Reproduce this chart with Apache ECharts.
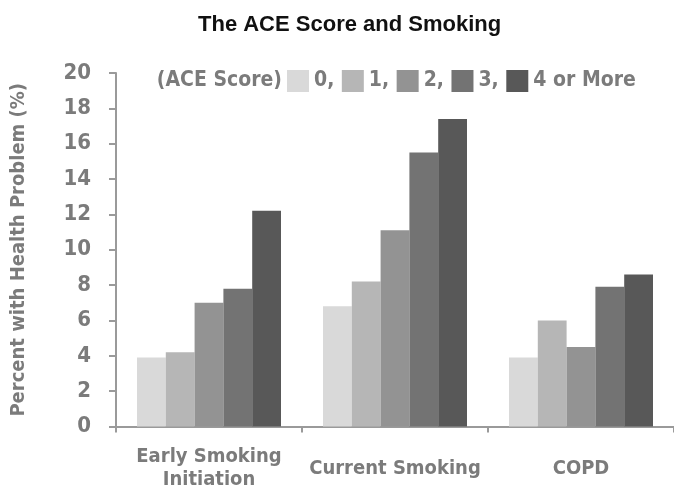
<!DOCTYPE html>
<html>
<head>
<meta charset="utf-8">
<script src="https://cdn.jsdelivr.net/npm/echarts@6/dist/echarts.min.js"></script>
<style>
  html, body { margin: 0; padding: 0; background: #fff; }
  #chart { width: 674px; height: 492px; }
</style>
</head>
<body>
<div id="chart"></div>
<script>
// Outcome categories along the x axis
const categories = ['Early Smoking\nInitiation', 'Current Smoking', 'COPD'];

// ACE score groups (legend entries)
const aceGroups = ['0', '1', '2', '3', '4 or More'];

// Percent with health problem, one array per ACE score group
const ace0 = [3.9, 6.8, 3.9];
const ace1 = [4.2, 8.2, 6.0];
const ace2 = [7.0, 11.1, 4.5];
const ace3 = [7.8, 15.5, 7.9];
const ace4plus = [12.2, 17.4, 8.6];

// Y axis ticks
const yTicks = [0, 2, 4, 6, 8, 10, 12, 14, 16, 18, 20];

const seriesValues = [ace0, ace1, ace2, ace3, ace4plus];
const barColors = ['#d9d9d9', '#b6b6b6', '#939393', '#737373', '#585858'];

const condensed = "'Liberation Sans Narrow', 'DejaVu Sans Condensed', 'Roboto Condensed', sans-serif";
const textGray = '#7b7b7b';

const chart = echarts.init(document.getElementById('chart'), null, { renderer: 'canvas' });

chart.setOption({
  animation: false,
  backgroundColor: '#ffffff',
  title: {
    text: 'The ACE Score and Smoking',
    left: 193,
    top: 9,
    textStyle: {
      fontFamily: "'Liberation Sans', Arial, sans-serif",
      fontSize: 22,
      fontWeight: 'bold',
      color: '#111'
    }
  },
  graphic: [{
    type: 'text',
    right: 392,
    top: 70,
    style: {
      text: '(ACE Score)',
      fontFamily: condensed,
      fontWeight: 'bold',
      fontSize: 21,
      fill: textGray
    }
  }],
  legend: {
    data: aceGroups,
    left: 282,
    top: 65,
    itemWidth: 22,
    itemHeight: 22,
    itemGap: 7.5,
    icon: 'rect',
    formatter: function (name) {
      return name === aceGroups[aceGroups.length - 1] ? name : name + ',';
    },
    textStyle: {
      fontFamily: condensed,
      fontWeight: 'bold',
      fontSize: 21,
      color: textGray,
      width: 20,
      overflow: 'none'
    }
  },
  grid: {
    left: 116,
    top: 73,
    width: 563,
    height: 353.5,
    containLabel: false
  },
  xAxis: {
    type: 'category',
    data: categories,
    axisLine: { lineStyle: { color: '#9a9a9a', width: 2 } },
    axisTick: { show: true, length: 6, lineStyle: { color: '#9a9a9a', width: 2 } },
    axisLabel: {
      interval: 0,
      margin: 42,
      verticalAlign: 'middle',
      lineHeight: 23,
      fontFamily: condensed,
      fontWeight: 'bold',
      fontSize: 20,
      color: textGray
    }
  },
  yAxis: {
    type: 'value',
    min: yTicks[0],
    max: yTicks[yTicks.length - 1],
    interval: yTicks[1] - yTicks[0],
    name: 'Percent with Health Problem (%)',
    nameLocation: 'middle',
    nameGap: 87,
    nameRotate: 90,
    nameTextStyle: {
      fontFamily: condensed,
      fontWeight: 'bold',
      fontSize: 20,
      color: textGray
    },
    splitLine: { show: false },
    axisLine: { show: true, lineStyle: { color: '#9a9a9a', width: 2 } },
    axisTick: { show: true, length: 7, lineStyle: { color: '#9a9a9a', width: 2 } },
    axisLabel: {
      margin: 25,
      fontFamily: condensed,
      fontWeight: 'bold',
      fontSize: 22,
      color: textGray
    }
  },
  series: aceGroups.map(function (name, i) {
    return {
      name: name,
      type: 'bar',
      data: seriesValues[i],
      barWidth: 28.8,
      barGap: '0%',
      itemStyle: { color: barColors[i] }
    };
  })
});
</script>
</body>
</html>
